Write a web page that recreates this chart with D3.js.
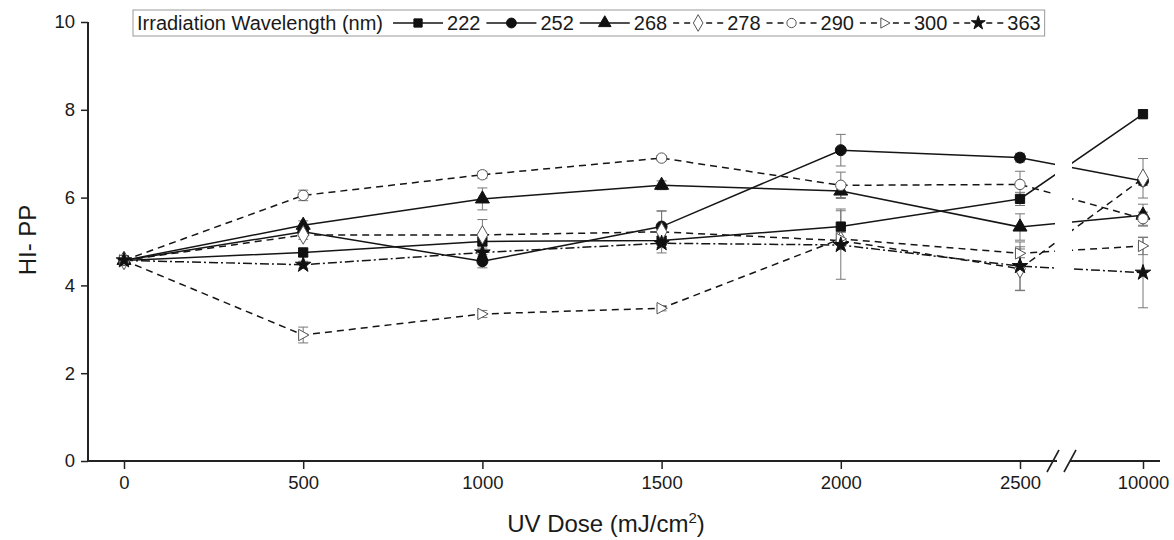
<!DOCTYPE html>
<html>
<head>
<meta charset="utf-8">
<script src="https://cdn.jsdelivr.net/npm/d3@7"></script>
<style>
  body { margin: 0; background: #fff; }
  text { font-family: "Liberation Sans", Arial, sans-serif; fill: #1a1a1a; }
</style>
</head>
<body>
<div id="chart"></div>
<script>
// UV dose (mJ/cm2) -- the last one sits after the axis break
var doses = [0, 500, 1000, 1500, 2000, 2500, 10000];
var y_ticks = [0, 2, 4, 6, 8, 10];

var wavelengths = ["222", "252", "268", "278", "290", "300", "363"];

var hi_222 = [4.57, 4.75, 5.00, 5.02, 5.34, 5.97, 7.90];
var hi_252 = [4.57, 5.22, 4.55, 5.34, 7.08, 6.91, 6.38];
var hi_268 = [4.57, 5.37, 5.97, 6.28, 6.15, 5.33, 5.60];
var hi_278 = [4.57, 5.15, 5.15, 5.22, 5.02, 4.38, 6.44];
var hi_290 = [4.57, 6.05, 6.52, 6.90, 6.28, 6.30, 5.52];
var hi_300 = [4.57, 2.87, 3.35, 3.48, 5.06, 4.73, 4.90];
var hi_363 = [4.57, 4.47, 4.75, 4.96, 4.92, 4.44, 4.29];

var err_222 = [0, 0.10, 0.10, 0.10, 0.40, 0.15, 0.10];
var err_252 = [0, 0.10, 0.15, 0.35, 0.36, 0.10, 0.10];
var err_268 = [0, 0.10, 0.25, 0.10, 0.15, 0.30, 0.25];
var err_278 = [0, 0.10, 0.35, 0.48, 0.20, 0.50, 0.45];
var err_290 = [0, 0.12, 0.08, 0.06, 0.30, 0.30, 0.15];
var err_300 = [0, 0.18, 0.08, 0.06, 0.15, 0.10, 0.20];
var err_363 = [0, 0.08, 0.10, 0.10, 0.78, 0.55, 0.80];

var series = [
	{ name: "222", vals: hi_222, errs: err_222, sym: d3.symbolSquare, fill: "#111", dash: null, size: 85 },
	{ name: "252", vals: hi_252, errs: err_252, sym: d3.symbolCircle, fill: "#111", dash: null, size: 95 },
	{ name: "268", vals: hi_268, errs: err_268, sym: d3.symbolTriangle, fill: "#111", dash: null, size: 85 },
	{ name: "278", vals: hi_278, errs: err_278, sym: d3.symbolDiamond, fill: "#fff", dash: "7,5", size: 100 },
	{ name: "290", vals: hi_290, errs: err_290, sym: d3.symbolCircle, fill: "#fff", dash: "7,5", size: 85 },
	{ name: "300", vals: hi_300, errs: err_300, sym: "right", fill: "#fff", dash: "7,5", size: 85 },
	{ name: "363", vals: hi_363, errs: err_363, sym: d3.symbolStar, fill: "#111", dash: "9,3,2,3", size: 75 }
];

var width = 1174,
	height = 540;

var svg = d3.select("#chart").append("svg")
	.attr("width", width)
	.attr("height", height);

// piecewise scale so 10000 lands just after the break
var x = d3.scaleLinear().domain([0, 2500, 10000]).range([124, 1020, 1143]);
var y = d3.scaleLinear().domain([0, 10]).range([461, 22]);

var axis_x0 = 88, axis_x1 = 1160;
var gap0 = 1055, gap1 = 1072;

// right pointing triangle is not a d3 symbol, make one
var rightTri = {
	draw: function(ctx, size) {
		var h = Math.sqrt(size) * 0.62;
		ctx.moveTo(h, 0);
		ctx.lineTo(-h * 0.8, -h);
		ctx.lineTo(-h * 0.8, h);
		ctx.closePath();
	}
};

function symPath(s, scale) {
	var t = s.sym == "right" ? rightTri : s.sym;
	return d3.symbol().type(t).size(s.size * (scale || 1))();
}

// ---- lines
var line = d3.line()
	.x(function(d) { return x(d[0]); })
	.y(function(d) { return y(d[1]); });

series.forEach(function(s) {
	var pts = doses.map(function(d, i) { return [d, s.vals[i]]; });
	svg.append("path")
		.attr("d", line(pts))
		.style("fill", "none")
		.style("stroke", "#151515")
		.style("stroke-width", 1.5)
		.style("stroke-dasharray", s.dash);
});

// white-out the break region for the data lines
svg.append("rect")
	.attr("x", gap0).attr("y", 40)
	.attr("width", gap1 - gap0).attr("height", 410)
	.style("fill", "#fff");

// ---- error bars
series.forEach(function(s) {
	doses.forEach(function(d, i) {
		if (!s.errs[i]) return;
		var cx = x(d), lo = y(s.vals[i] - s.errs[i]), hi = y(s.vals[i] + s.errs[i]);
		var g = svg.append("g").style("stroke", "#777").style("stroke-width", 1);
		g.append("line").attr("x1", cx).attr("x2", cx).attr("y1", lo).attr("y2", hi);
		g.append("line").attr("x1", cx - 5).attr("x2", cx + 5).attr("y1", lo).attr("y2", lo);
		g.append("line").attr("x1", cx - 5).attr("x2", cx + 5).attr("y1", hi).attr("y2", hi);
	});
});

// ---- markers
series.forEach(function(s) {
	svg.selectAll(null)
		.data(doses.map(function(d, i) { return [d, s.vals[i]]; }))
		.enter()
		.append("path")
		.attr("d", symPath(s))
		.attr("transform", function(d) { return "translate(" + x(d[0]) + "," + y(d[1]) + ")"; })
		.style("fill", s.fill)
		.style("stroke", s.fill == "#fff" ? "#555" : "#111")
		.style("stroke-width", 1);
});

// ---- axes
var yAxis = d3.axisLeft(y).tickValues(y_ticks).tickSize(7).tickPadding(6);
var gy = svg.append("g").attr("transform", "translate(" + axis_x0 + ",0)").call(yAxis);
gy.select(".domain").remove();
gy.append("line").attr("x1", 0).attr("x2", 0).attr("y1", y(10)).attr("y2", y(0) + 1)
	.style("stroke", "#222").style("stroke-width", 2);

var xAxis = d3.axisBottom(x).tickValues(doses).tickSize(8).tickPadding(7).tickFormat(d3.format("d"));
var gx = svg.append("g").attr("transform", "translate(0," + y(0) + ")").call(xAxis);
gx.select(".domain").remove();
gx.append("line").attr("x1", axis_x0).attr("x2", gap0 + 2).attr("y1", 0).attr("y2", 0)
	.style("stroke", "#222").style("stroke-width", 2);
gx.append("line").attr("x1", gap1 - 2).attr("x2", axis_x1).attr("y1", 0).attr("y2", 0)
	.style("stroke", "#222").style("stroke-width", 2);
[gap0 - 2, gap1 - 2].forEach(function(bx) {
	gx.append("line").attr("x1", bx - 6).attr("x2", bx + 6).attr("y1", 11).attr("y2", -11)
		.style("stroke", "#222").style("stroke-width", 1.6);
});

svg.selectAll(".tick line").style("stroke", "#222").style("stroke-width", 1.5);
svg.selectAll(".tick text").style("font-size", "18.5px").style("fill", "#1a1a1a")
	.style("font-family", "Liberation Sans, Arial, sans-serif");

// ---- titles
var xt = svg.append("text")
	.attr("x", 606).attr("y", 532)
	.attr("text-anchor", "middle")
	.style("font-size", "24px");
xt.append("tspan").text("UV Dose (mJ/cm");
xt.append("tspan").attr("dy", -9).style("font-size", "15px").text("2");
xt.append("tspan").attr("dy", 9).text(")");

svg.append("text")
	.attr("transform", "translate(36,240) rotate(-90)")
	.attr("text-anchor", "middle")
	.style("font-size", "24px")
	.text("HI- PP");

// ---- legend
var lg = svg.append("g");
var lgBox = lg.append("rect")
	.attr("y", 10).attr("height", 26)
	.style("fill", "#fff").style("stroke", "#999").style("stroke-width", 1);
var hdr = lg.append("text").attr("x", 137).attr("y", 30).style("font-size", "20px")
	.text("Irradiation Wavelength (nm)");
var cx = 137 + hdr.node().getComputedTextLength() + 10;
series.forEach(function(s) {
	lg.append("line")
		.attr("x1", cx).attr("x2", cx + 50).attr("y1", 23).attr("y2", 23)
		.style("stroke", "#151515").style("stroke-width", 1.5)
		.style("stroke-dasharray", s.dash ? "6,5" : null);
	lg.append("path")
		.attr("d", symPath(s, 0.8))
		.attr("transform", "translate(" + (cx + 25) + ",23)")
		.style("fill", s.fill)
		.style("stroke", s.fill == "#fff" ? "#555" : "#111");
	var t = lg.append("text").attr("x", cx + 54).attr("y", 30).style("font-size", "20px").text(s.name);
	cx += 54 + t.node().getComputedTextLength() + 6;
});
lgBox.attr("x", 133).attr("width", cx - 133 - 2);
</script>
</body>
</html>
